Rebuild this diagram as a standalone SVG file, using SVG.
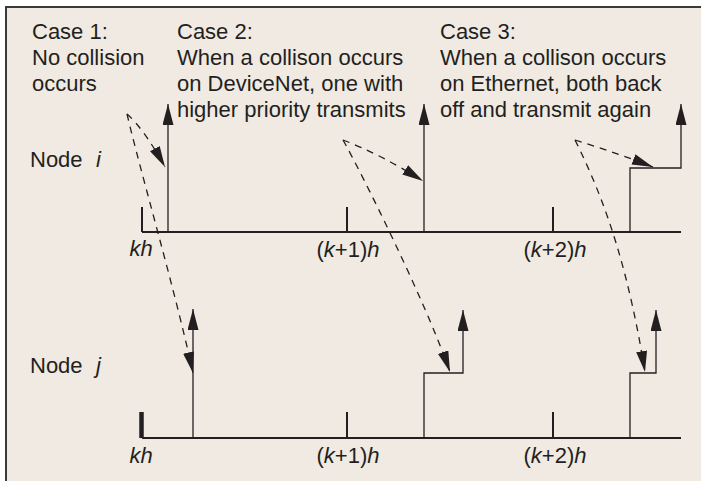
<svg xmlns="http://www.w3.org/2000/svg" width="701" height="481" viewBox="0 0 701 481">
<style>
text{font-family:"Liberation Sans",Arial,Helvetica,sans-serif;font-size:22px;fill:#231f20}
.it{font-style:italic}
.lbl{text-anchor:middle}
.axis{stroke:#231f20;stroke-width:2;fill:none}
.sig{stroke:#231f20;stroke-width:1.3;fill:none;marker-end:url(#ah)}
.dash{stroke:#231f20;stroke-width:1.3;fill:none;stroke-dasharray:7 6;marker-end:url(#ah)}
</style>
<defs>
<marker id="ah" markerUnits="userSpaceOnUse" viewBox="0 0 21 11" refX="21" refY="5.5" markerWidth="21" markerHeight="11" orient="auto">
<path d="M0,0 L21,5.5 L0,11 Z" fill="#231f20"/>
</marker>
</defs>
<rect x="0" y="0" width="701" height="481" fill="#ffffff"/>
<rect x="6" y="7" width="695" height="474" fill="#f0eae2"/>
<path d="M6,481 V7 H701" fill="none" stroke="#3a3a3a" stroke-width="2"/>

<g id="case1-text">
<text x="32" y="39">Case 1:</text>
<text x="32" y="65">No collision</text>
<text x="32" y="91">occurs</text>
</g>
<g id="case2-text">
<text x="177" y="39">Case 2:</text>
<text x="177" y="65">When a collison occurs</text>
<text x="177" y="91">on DeviceNet, one with</text>
<text x="177" y="117">higher priority transmits</text>
</g>
<g id="case3-text">
<text x="440" y="39">Case 3:</text>
<text x="440" y="65">When a collison occurs</text>
<text x="440" y="91">on Ethernet, both back</text>
<text x="440" y="117">off and transmit again</text>
</g>

<g id="node-i">
<text x="30" y="167">Node</text>
<text x="96" y="167" class="it">i</text>
<path class="axis" d="M142,232 H681"/>
<path class="axis" d="M142,207 V232 M347,207 V232 M553,207 V232"/>
<text x="141" y="256" class="lbl"><tspan class="it">kh</tspan></text>
<text x="348" y="257" class="lbl">(<tspan class="it">k</tspan>+1)<tspan class="it">h</tspan></text>
<text x="555" y="257" class="lbl">(<tspan class="it">k</tspan>+2)<tspan class="it">h</tspan></text>
<path class="sig" d="M168,232 V104"/>
<path class="sig" d="M424,232 V104"/>
<path class="sig" d="M630,232 V168 H681 V104"/>
</g>

<g id="node-j">
<text x="30" y="373">Node</text>
<text x="96" y="373" class="it">j</text>
<path class="axis" d="M142,438 H681"/>
<path d="M141.5,412 V438" stroke="#231f20" stroke-width="4.5" fill="none"/>
<path class="axis" d="M347,412 V438 M553,412 V438"/>
<text x="141" y="463" class="lbl"><tspan class="it">kh</tspan></text>
<text x="348" y="463" class="lbl">(<tspan class="it">k</tspan>+1)<tspan class="it">h</tspan></text>
<text x="555" y="463" class="lbl">(<tspan class="it">k</tspan>+2)<tspan class="it">h</tspan></text>
<path class="sig" d="M193,438 V309"/>
<path class="sig" d="M424,438 V373 H463 V310"/>
<path class="sig" d="M630,438 V373 H656 V310"/>
</g>

<g id="connectors">
<path class="dash" d="M127,114 Q144,129 165,167"/>
<path class="dash" d="M127,114 C140,170 175,290 193,373"/>
<path class="dash" d="M343,140 Q380,154 423,181"/>
<path class="dash" d="M343,140 C360,170 425,300 450,372"/>
<path class="dash" d="M575,140 Q614,152 653,167"/>
<path class="dash" d="M575,140 C610,210 630,280 645,372"/>
</g>
</svg>
